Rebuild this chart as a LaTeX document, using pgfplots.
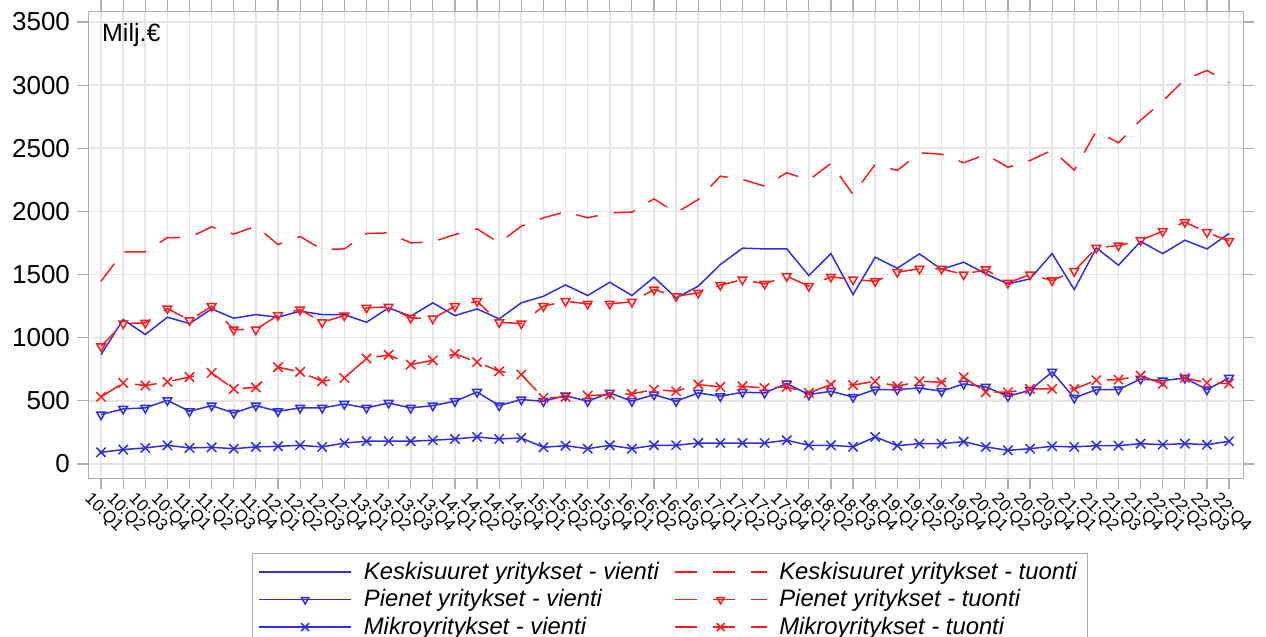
\documentclass[border=0pt]{standalone}
\usepackage{fontspec}
\setmainfont{Liberation Sans}
\usepackage{pgfplots}
\pgfplotsset{compat=1.18}
\usepackage{pgfplotstable}
\definecolor{cblue}{RGB}{45,45,225}
\definecolor{cred}{RGB}{255,25,25}
\definecolor{gridc}{RGB}{228,228,228}
\definecolor{axc}{RGB}{175,175,175}

\pgfplotstableread{
i kv kt pv pt mv mt
0 866 1447 391 932 92 531
1 1144 1680 436 1112 114 642
2 1025 1680 444 1117 127 621
3 1162 1793 504 1231 148 650
4 1112 1793 417 1138 127 689
5 1228 1878 462 1249 132 721
6 1154 1820 404 1064 121 594
7 1183 1883 462 1064 135 607
8 1162 1738 417 1178 140 766
9 1210 1801 444 1223 148 729
10 1183 1698 444 1122 135 655
11 1183 1703 475 1175 166 681
12 1122 1825 444 1236 180 835
13 1236 1830 483 1244 180 864
14 1170 1751 444 1157 180 787
15 1276 1759 462 1151 188 821
16 1175 1817 497 1249 198 872
17 1228 1862 570 1289 214 807
18 1149 1751 462 1122 198 734
19 1276 1883 510 1112 206 708
20 1328 1949 497 1249 132 523
21 1418 1997 541 1289 145 531
22 1334 1949 497 1268 121 541
23 1439 1989 563 1268 148 549
24 1334 1994 497 1284 121 555
25 1479 2100 549 1381 148 589
26 1315 1989 497 1328 148 576
27 1408 2094 563 1355 166 629
28 1579 2279 536 1416 166 610
29 1709 2253 568 1460 166 615
30 1703 2200 563 1426 166 602
31 1703 2306 637 1487 188 610
32 1492 2248 549 1408 148 563
33 1666 2380 576 1482 148 629
34 1342 2134 530 1460 136 625
35 1637 2372 589 1447 214 655
36 1550 2324 589 1519 145 615
37 1664 2464 602 1545 161 655
38 1540 2453 576 1545 161 647
39 1598 2385 634 1500 177 687
40 1505 2451 610 1540 135 568
41 1426 2350 536 1434 108 568
42 1466 2403 584 1500 121 594
43 1666 2485 729 1453 140 594
44 1381 2327 523 1527 135 594
45 1711 2636 589 1711 145 663
46 1574 2543 589 1730 145 668
47 1762 2723 673 1772 161 700
48 1666 2873 660 1843 153 634
49 1772 3045 681 1915 161 681
50 1703 3116 589 1835 153 642
51 1825 3019 681 1764 180 637
}\datatable

\begin{document}
\begin{tikzpicture}
\path[use as bounding box] (0,0) rectangle (633pt,318.5pt);
\clip (0,0) rectangle (633pt,318.5pt);
\begin{axis}[
  at={(44pt,79.5pt)}, anchor=south west,
  scale only axis, width=577.5pt, height=233.5pt,
  xmin=-0.59, xmax=51.63, ymin=-111, ymax=3587,
  axis line style={axc},
  tick style={axc, line width=0.6pt},
  tick align=outside,
  major tick length=5.5pt,
  grid=major,
  major grid style={gridc, line width=0.8pt},
  xtick={0,...,51},
  xticklabels={10:Q1,10:Q2,10:Q3,10:Q4,11:Q1,11:Q2,11:Q3,11:Q4,12:Q1,12:Q2,12:Q3,12:Q4,13:Q1,13:Q2,13:Q3,13:Q4,14:Q1,14:Q2,14:Q3,14:Q4,15:Q1,15:Q2,15:Q3,15:Q4,16:Q1,16:Q2,16:Q3,16:Q4,17:Q1,17:Q2,17:Q3,17:Q4,18:Q1,18:Q2,18:Q3,18:Q4,19:Q1,19:Q2,19:Q3,19:Q4,20:Q1,20:Q2,20:Q3,20:Q4,21:Q1,21:Q2,21:Q3,21:Q4,22:Q1,22:Q2,22:Q3,22:Q4},
  xticklabel style={font=\fontsize{8.5}{10}\selectfont, rotate=-45, anchor=north west, inner sep=0pt, xshift=-2.5pt, yshift=-3.5pt},
  ytick={0,500,...,3500},
  yticklabel style={font=\fontsize{13}{15}\selectfont},
  /pgf/number format/1000 sep={},
  /pgf/number format/assume math mode=true,
  legend columns=2,
  legend cell align=left,
  legend style={at={(0.142,-0.16)}, anchor=north west, draw=axc,
    font=\fontsize{11.9}{14}\selectfont\itshape,
    inner xsep=3pt, inner ysep=2.5pt,
    /tikz/every even column/.append style={column sep=5.5pt},
    row sep=-0.4pt},
  legend image code/.code={\draw[mark repeat=2,mark phase=2,every mark/.append style={scale=0.85},#1] plot coordinates {(0pt,0pt) (23pt,0pt) (46pt,0pt)};\path (50pt,0pt);},
  every axis plot/.append style={line width=0.75pt},
]
\addplot[cblue, mark=none] table[x=i,y=kv]{\datatable};
\addlegendentry{Keskisuuret yritykset - vienti}
\addplot[cred, dash pattern=on 11pt off 8pt, mark=none] table[x=i,y=kt]{\datatable};
\addlegendentry{Keskisuuret yritykset - tuonti}
\addplot[cblue, mark=triangle, mark size=2.5pt, mark options={rotate=180, solid}] table[x=i,y=pv]{\datatable};
\addlegendentry{Pienet yritykset - vienti}
\addplot[cred, dash pattern=on 11pt off 8pt, mark=triangle, mark size=2.5pt, mark options={rotate=180, solid}] table[x=i,y=pt]{\datatable};
\addlegendentry{Pienet yritykset - tuonti}
\addplot[cblue, mark=x, mark size=3.3pt, mark options={solid}] table[x=i,y=mv]{\datatable};
\addlegendentry{Mikroyritykset - vienti}
\addplot[cred, dash pattern=on 11pt off 8pt, mark=x, mark size=3.3pt, mark options={solid}] table[x=i,y=mt]{\datatable};
\addlegendentry{Mikroyritykset - tuonti}
\node[anchor=north west, inner sep=0pt, font=\fontsize{12.5}{14}\selectfont] at (rel axis cs:0.0119,0.975) {Milj.€};
\end{axis}
\end{tikzpicture}
\end{document}
